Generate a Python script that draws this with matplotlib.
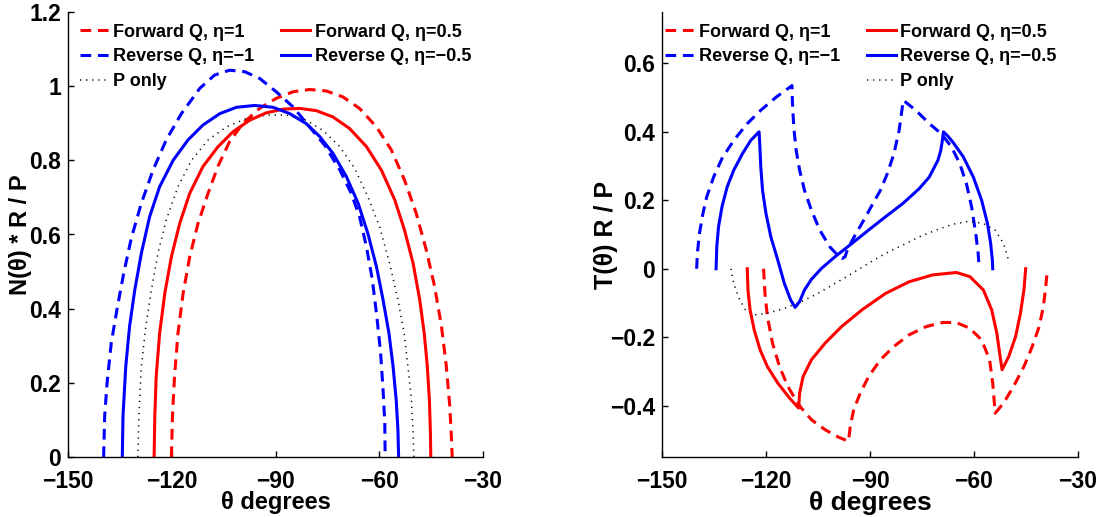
import matplotlib
matplotlib.use('Agg')
import matplotlib.pyplot as plt
from matplotlib.lines import Line2D

# normal force N(theta) * R / P
n_fwd1_th = [-120.1, -119.8, -119.2, -118.2, -116.7, -114.8, -112.4, -109.5, -106.6, -103.3, -99.4, -94.6,
             -89.8, -84.9, -80.1, -75.3, -70.5, -65.7, -60.8, -56.5, -52.7, -49.3, -46.4, -44.0, -42.0,
             -40.6, -39.6, -39.2, -38.9]
n_fwd1 = [0, 0.11, 0.217, 0.334, 0.442, 0.54, 0.63, 0.711, 0.785, 0.85, 0.9, 0.94,
          0.967, 0.985, 0.991, 0.987, 0.971, 0.94, 0.89, 0.828, 0.747, 0.657, 0.558, 0.46, 0.352,
          0.244, 0.136, 0.065, 0]

n_fwd05_th = [-125.1, -124.9, -124.5, -123.5, -122.0, -120.1, -117.7, -114.8, -111.0, -106.6, -102.3, -97.5,
              -92.7, -87.8, -83.0, -78.2, -73.4, -68.6, -63.7, -59.4, -55.5, -52.7, -50.2, -48.3, -47.0,
              -46.1, -45.5, -45.2, -45.1]
n_fwd05 = [0, 0.11, 0.217, 0.334, 0.442, 0.54, 0.63, 0.711, 0.783, 0.837, 0.877, 0.908,
           0.928, 0.938, 0.94, 0.934, 0.917, 0.886, 0.837, 0.774, 0.693, 0.612, 0.522, 0.424, 0.334,
           0.244, 0.154, 0.065, 0]

n_rev1_th = [-139.7, -139.4, -138.7, -137.5, -135.8, -133.9, -131.7, -128.8, -125.4, -121.6, -117.2, -111.9,
             -107.6, -103.3, -98.9, -94.6, -89.8, -84.9, -80.6, -75.8, -71.4, -68.1, -65.7, -63.7, -62.0,
             -60.7, -59.6, -58.9, -58.4, -58.3]
n_rev1 = [0, 0.11, 0.2, 0.307, 0.4, 0.495, 0.59, 0.684, 0.774, 0.855, 0.926, 0.994,
          1.03, 1.043, 1.039, 1.021, 0.985, 0.944, 0.895, 0.841, 0.774, 0.711, 0.648, 0.567, 0.478,
          0.379, 0.28, 0.181, 0.092, 0]

n_rev05_th = [-134.3, -134.1, -133.3, -132.2, -130.7, -128.8, -126.4, -123.5, -119.6, -115.3, -111.0, -106.1,
              -101.3, -96.0, -90.7, -85.9, -81.1, -77.2, -73.4, -69.5, -66.1, -63.3, -60.8, -58.9, -57.2,
              -56.0, -55.1, -54.6, -54.4]
n_rev05 = [0, 0.11, 0.244, 0.352, 0.45, 0.549, 0.648, 0.729, 0.8, 0.855, 0.895, 0.926,
           0.943, 0.948, 0.943, 0.926, 0.899, 0.864, 0.819, 0.756, 0.684, 0.603, 0.513, 0.424, 0.334,
           0.244, 0.154, 0.074, 0]

n_p_th = [-129.8, -129.5, -128.8, -127.5, -125.9, -124.0, -121.6, -118.2, -114.3, -109.5, -104.2, -98.4,
          -92.7, -86.9, -81.1, -76.3, -71.4, -67.1, -63.3, -59.9, -57.0, -54.6, -52.8, -51.7, -50.7,
          -50.2, -50.0]
n_p = [0, 0.11, 0.244, 0.352, 0.45, 0.549, 0.639, 0.729, 0.8, 0.855, 0.89, 0.913,
       0.922, 0.922, 0.908, 0.881, 0.837, 0.778, 0.702, 0.621, 0.522, 0.424, 0.334, 0.244, 0.154,
       0.065, 0]

# tangential force T(theta) R / P
t_fwd1_th = [-120.7, -120.3, -119.6, -118.1, -116.1, -113.7, -110.8, -109.8, -106.9, -103.0, -99.1, -96.2,
             -95.7, -94.7, -92.8, -90.4, -87.0, -83.1, -78.7, -73.8, -69.0, -65.1, -61.2, -57.8, -55.5,
             -54.6, -54.2, -53.9, -51.5, -48.6, -45.6, -43.2, -41.2, -40.0, -39.3, -38.8]
t_fwd1 = [0, -0.072, -0.14, -0.218, -0.286, -0.344, -0.393, -0.407, -0.441, -0.47, -0.492, -0.504,
          -0.461, -0.412, -0.363, -0.315, -0.266, -0.227, -0.193, -0.169, -0.157, -0.157, -0.174, -0.208, -0.266,
          -0.334, -0.383, -0.422, -0.393, -0.344, -0.286, -0.227, -0.169, -0.111, -0.052, 0]

t_fwd05_th = [-125.4, -125.2, -124.6, -123.4, -121.7, -119.6, -116.6, -113.2, -110.6, -110.3, -109.3, -106.9,
              -103.0, -98.2, -92.3, -85.5, -78.7, -71.9, -65.1, -61.2, -57.3, -54.9, -53.4, -52.6, -51.9,
              -50.0, -48.0, -46.6, -45.6, -45.1]
t_fwd05 = [0, -0.062, -0.12, -0.179, -0.237, -0.286, -0.334, -0.378, -0.407, -0.363, -0.315, -0.266,
           -0.218, -0.169, -0.12, -0.072, -0.038, -0.018, -0.011, -0.023, -0.062, -0.12, -0.189, -0.247, -0.295,
           -0.257, -0.198, -0.13, -0.062, 0]

t_rev1_th = [-140.0, -139.8, -139.2, -138.2, -137.1, -135.1, -132.7, -129.3, -125.4, -121.5, -117.1, -112.5,
             -112.4, -112.0, -111.3, -110.3, -108.9, -106.9, -104.5, -101.6, -99.1, -98.0, -97.2, -96.4,
             -94.3, -91.8, -89.4, -87.0, -85.0, -83.1, -81.6, -80.8, -80.4,
             -76.8, -72.9, -69.5, -66.5, -64.1, -62.2, -60.7, -59.5, -58.8, -58.5]
t_rev1 = [0, 0.045, 0.103, 0.161, 0.21, 0.268, 0.322, 0.375, 0.424, 0.463, 0.501, 0.535,
          0.492, 0.414, 0.346, 0.288, 0.229, 0.171, 0.113, 0.064, 0.037, 0.03, 0.035, 0.059,
          0.098, 0.142, 0.186, 0.229, 0.278, 0.336, 0.404, 0.463, 0.492,
          0.463, 0.424, 0.395, 0.356, 0.307, 0.249, 0.181, 0.103, 0.045, 0]

t_rev05_th = [-134.4, -134.2, -133.7, -132.7, -131.2, -129.3, -126.8, -124.4, -122.0,
              -121.8, -121.5, -121.0, -120.0, -118.6, -116.6, -114.7, -112.9, -111.6,
              -110.3, -108.9, -106.9, -104.0, -100.1, -95.2, -90.4, -85.5, -80.6, -75.8, -72.9, -70.4,
              -69.6, -69.2, -68.8, -67.6, -66.1, -63.1, -60.2, -57.8, -56.1, -55.2, -54.7, -54.6]
t_rev05 = [0, 0.064, 0.122, 0.181, 0.239, 0.288, 0.336, 0.375, 0.4,
           0.365, 0.297, 0.229, 0.161, 0.093, 0.025, -0.043, -0.091, -0.113,
           -0.096, -0.062, -0.031, 0.001, 0.035, 0.074, 0.113, 0.152, 0.19, 0.234, 0.268, 0.317,
           0.345, 0.37, 0.4, 0.388, 0.37, 0.327, 0.268, 0.2, 0.132, 0.074, 0.025, 0]

t_p_th = [-130.1, -129.3, -127.8, -125.9, -123.4, -119.6, -114.7, -109.8, -105.0, -100.1, -95.2, -90.4,
          -85.5, -80.6, -75.8, -70.9, -66.1, -61.2, -57.3, -53.9, -51.5, -50.3, -50.0]
t_p = [0, -0.043, -0.086, -0.12, -0.135, -0.13, -0.116, -0.096, -0.072, -0.043, -0.014, 0.016,
       0.045, 0.069, 0.093, 0.113, 0.13, 0.139, 0.132, 0.113, 0.074, 0.035, 0.016]

x_ticks = [-150, -120, -90, -60, -30]
x_ticklabels = ['\u2212150', '\u2212120', '\u221290', '\u221260', '\u221230']
n_ticks = [0, 0.2, 0.4, 0.6, 0.8, 1, 1.2]
n_ticklabels = ['0', '0.2', '0.4', '0.6', '0.8', '1', '1.2']
t_ticks = [-0.4, -0.2, 0, 0.2, 0.4, 0.6]
t_ticklabels = ['\u22120.4', '\u22120.2', '0', '0.2', '0.4', '0.6']

labels = ['Forward Q, \u03b7=1', 'Reverse Q, \u03b7=\u22121', 'P only',
          'Forward Q, \u03b7=0.5', 'Reverse Q, \u03b7=\u22120.5']

plt.rcParams['font.family'] = ['Liberation Sans', 'DejaVu Sans']
plt.rcParams['font.weight'] = 'bold'
plt.rcParams['axes.labelweight'] = 'bold'

dash = (0, (3.5, 2.2))
dot = (0, (0.8, 3.2))
lw = 2.2

fig = plt.figure(figsize=(11.15, 5.17), dpi=100, facecolor='w')
ax1 = fig.add_axes([68 / 1115, 60 / 517, 415 / 1115, 445 / 517])
ax2 = fig.add_axes([662 / 1115, 60 / 517, 416 / 1115, 445 / 517])

leg_kw = dict(ncol=2, loc='upper left', frameon=False, fontsize=13, handlelength=1.6,
              handletextpad=0.25, columnspacing=1.5, labelspacing=0.42, borderaxespad=0.25)


def style(ax, yticks, yticklabels):
    for s in ['top', 'right']:
        ax.spines[s].set_visible(False)
    for s in ['left', 'bottom']:
        ax.spines[s].set_linewidth(1.0)
    ax.set_xlim(-150, -30)
    ax.set_xticks(x_ticks)
    ax.set_xticklabels(x_ticklabels)
    ax.set_yticks(yticks)
    ax.set_yticklabels(yticklabels)
    ax.tick_params(axis='y', direction='in', length=4, width=1, labelsize=16.5, pad=5)
    ax.tick_params(axis='x', direction='in', length=4, width=1, labelsize=16.5, pad=9)


# left: normal force
f1, = ax1.plot(n_fwd1_th, n_fwd1, color='r', lw=lw, ls=dash)
r1, = ax1.plot(n_rev1_th, n_rev1, color='b', lw=lw, ls=dash)
p0, = ax1.plot(n_p_th, n_p, color='k', lw=1.1, ls=dot)
f05, = ax1.plot(n_fwd05_th, n_fwd05, color='r', lw=lw)
r05, = ax1.plot(n_rev05_th, n_rev05, color='b', lw=lw)
style(ax1, n_ticks, n_ticklabels)
ax1.set_ylim(0, 1.2)
ax1.set_xlabel('\u03b8 degrees', fontsize=17, labelpad=-1)
ax1.set_ylabel('N(\u03b8) * R / P', fontsize=17, labelpad=-2)
ax1.legend([f1, r1, p0, f05, r05], labels, bbox_to_anchor=(0.0, 1.0), **leg_kw)

# right: tangential force
ax2.plot(t_fwd1_th, t_fwd1, color='r', lw=lw, ls=dash)
ax2.plot(t_rev1_th, t_rev1, color='b', lw=lw, ls=dash)
ax2.plot(t_p_th, t_p, color='k', lw=1.1, ls=dot)
ax2.plot(t_fwd05_th, t_fwd05, color='r', lw=lw)
ax2.plot(t_rev05_th, t_rev05, color='b', lw=lw)
style(ax2, t_ticks, t_ticklabels)
ax2.set_ylim(-0.55, 0.75)
ax2.set_xlabel('\u03b8 degrees', fontsize=19, labelpad=-1)
ax2.set_ylabel('T(\u03b8) R / P', fontsize=18, labelpad=-6)
blank = Line2D([], [], color='none')
ax2.legend([f1, r1, blank, f05, r05, p0], labels[:2] + [''] + labels[3:] + [labels[2]],
           bbox_to_anchor=(-0.02, 1.0), **leg_kw)

fig.savefig('out.png', dpi=100)
